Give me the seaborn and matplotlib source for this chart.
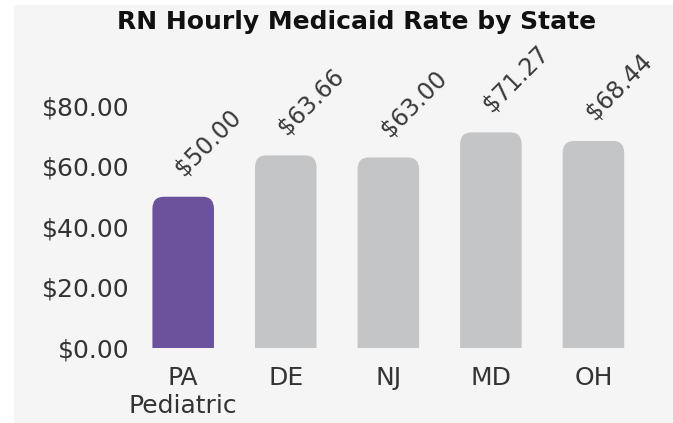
import matplotlib
matplotlib.use("Agg")
import matplotlib.pyplot as plt
import seaborn as sns
import pandas as pd
from matplotlib.patches import FancyBboxPatch, Rectangle

# Données
states = ["PA\nPediatric", "DE", "NJ", "MD", "OH"]
rates = [50.00, 63.66, 63.00, 71.27, 68.44]
bar_colors = ["#6c519c", "#c4c5c7", "#c4c5c7", "#c4c5c7", "#c4c5c7"]
y_ticks = [0, 20, 40, 60, 80]

df = pd.DataFrame({"state": states, "rate": rates})

sns.set_style("white")
plt.rcParams["font.family"] = ["DejaVu Sans"]

fig = plt.figure(figsize=(6.73, 4.23), dpi=100, facecolor="white")
# panneau gris clair
fig.patches.append(Rectangle((14 / 673, 0), 1 - 14 / 673, 1 - 5 / 423,
                             transform=fig.transFigure, facecolor="#f5f5f5",
                             edgecolor="none", zorder=-10))

ax = fig.add_axes([0.196, 0.1773, 0.762, 0.6794])
ax.set_facecolor("none")

sns.barplot(data=df, x="state", y="rate", hue="state", palette=bar_colors,
            width=0.6, saturation=1, legend=False, ax=ax)

# Remplacer les barres par des barres aux coins arrondis en haut
for patch, val in zip(list(ax.patches), rates):
    x0, w = patch.get_x(), patch.get_width()
    col = patch.get_facecolor()
    patch.set_visible(False)
    rounded = FancyBboxPatch((x0, -10), w, val + 10,
                             boxstyle="round,pad=0,rounding_size=0.11",
                             mutation_aspect=36, facecolor=col,
                             edgecolor="none", clip_on=True)
    ax.add_patch(rounded)
    ax.annotate(f"${val:.2f}", xy=(x0 + w / 2, val), xytext=(18, 39),
                textcoords="offset points", rotation=45, ha="center",
                va="center", fontsize=17, color="#3a3a3a")

ax.set_ylim(0, 95)
ax.set_xlim(-0.5, 4.5)
ax.set_yticks(y_ticks)
ax.set_yticklabels([f"${v:.2f}" for v in y_ticks], fontsize=18, color="#333333")
ax.tick_params(axis="y", length=0, pad=2)
ax.tick_params(axis="x", length=0, pad=13, labelsize=18, labelcolor="#333333")
ax.set_xlabel("")
ax.set_ylabel("")
sns.despine(ax=ax, left=True, bottom=True)

fig.text(0.53, 0.947, "RN Hourly Medicaid Rate by State", ha="center",
         va="center", fontsize=18, fontweight="bold", color="#111111")

fig.savefig("out.png", dpi=100, facecolor=fig.get_facecolor())
